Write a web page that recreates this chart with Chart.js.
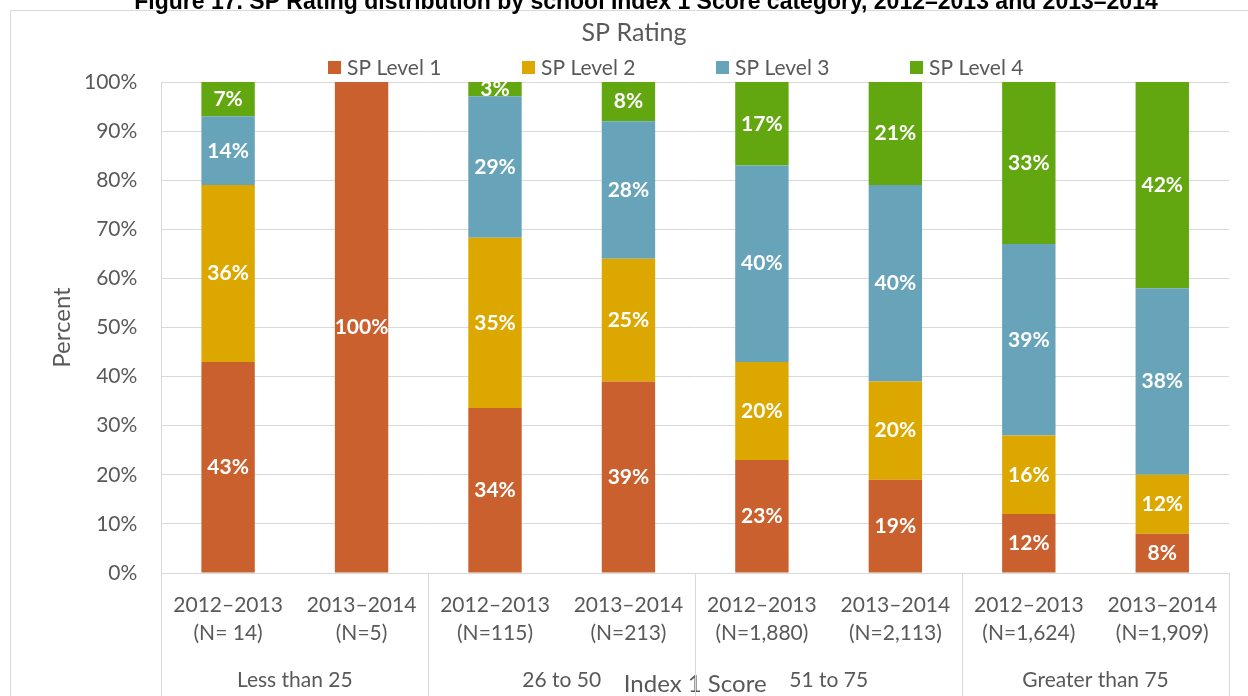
<!DOCTYPE html>
<html>
<head>
<meta charset="utf-8">
<title>SP Rating</title>
<script src="https://cdn.jsdelivr.net/npm/chart.js@4.4.0/dist/chart.umd.min.js"></script>
<style>
    html, body { margin: 0; padding: 0; background: #fff; overflow: hidden; }
    #wrap { position: relative; width: 1248px; height: 696px; }
</style>
</head>
<body>
<div id="wrap"><canvas id="spChart" width="1248" height="696"></canvas></div>
<script>
var caption = 'Figure 17. SP Rating distribution by school Index 1 Score category, 2012\u20132013 and 2013\u20132014';
var years = [
    ['2012\u20132013', '(N= 14)'], ['2013\u20132014', '(N=5)'],
    ['2012\u20132013', '(N=115)'], ['2013\u20132014', '(N=213)'],
    ['2012\u20132013', '(N=1,880)'], ['2013\u20132014', '(N=2,113)'],
    ['2012\u20132013', '(N=1,624)'], ['2013\u20132014', '(N=1,909)']
];
var groups = ['Less than 25', '26 to 50', '51 to 75', 'Greater than 75'];
var seriesNames = ['SP Level 1', 'SP Level 2', 'SP Level 3', 'SP Level 4'];
var level1 = [43, 100, 33.6, 39, 23, 19, 12, 8];
var level2 = [36, 0, 34.7, 25, 20, 20, 16, 12];
var level3 = [14, 0, 28.8, 28, 40, 40, 39, 38];
var level4 = [7, 0, 2.9, 8, 17, 21, 33, 42];
var yTicks = [0, 10, 20, 30, 40, 50, 60, 70, 80, 90, 100];

(function () {
    var colors = ['#c9602e', '#dca800', '#67a3b9', '#62a70f'];
    var gray = '#595959';
    var lineGray = '#d9d9d9';
    var font = 'Lato';

    var extras = {
        id: 'extras',
        beforeDraw: function (chart) {
            var ctx = chart.ctx;
            ctx.save();
            // outer frame
            ctx.strokeStyle = lineGray;
            ctx.lineWidth = 1;
            ctx.beginPath();
            ctx.moveTo(10.5, chart.height);
            ctx.lineTo(10.5, 10.5);
            ctx.lineTo(chart.width, 10.5);
            ctx.stroke();
            // figure caption, clipped at the top
            ctx.fillStyle = '#000';
            ctx.font = 'bold 23px "Liberation Sans"';
            ctx.textAlign = 'center';
            ctx.textBaseline = 'alphabetic';
            ctx.fillText(caption, 646, 9);
            ctx.restore();
        },
        afterDraw: function (chart) {
            var ctx = chart.ctx;
            var x = chart.scales.x;
            var area = chart.chartArea;
            var catW = (x.right - x.left) / years.length;
            ctx.save();
            // group separators under the axis
            ctx.strokeStyle = lineGray;
            ctx.lineWidth = 1;
            ctx.beginPath();
            for (var g = 0; g <= groups.length; g++) {
                var px = g < groups.length ? x.getPixelForValue(g * 2) - catW / 2 : x.right;
                px = Math.round(px) + 0.5;
                ctx.moveTo(px, area.bottom);
                ctx.lineTo(px, chart.height);
            }
            ctx.stroke();
            // group labels
            ctx.fillStyle = gray;
            ctx.font = '21px ' + font;
            ctx.textAlign = 'center';
            ctx.textBaseline = 'middle';
            groups.forEach(function (name, i) {
                var cx = (x.getPixelForValue(i * 2) + x.getPixelForValue(i * 2 + 1)) / 2;
                ctx.fillText(name, cx, 680);
            });
            // legend, evenly spaced like the original
            ctx.textAlign = 'left';
            seriesNames.forEach(function (name, i) {
                var lx = 328 + i * 194;
                ctx.fillStyle = colors[i];
                ctx.fillRect(lx, 61, 13, 13);
                ctx.fillStyle = gray;
                ctx.fillText(name, lx + 19, 68);
            });
            ctx.restore();
        }
    };

    var barLabels = {
        id: 'barLabels',
        afterDatasetsDraw: function (chart) {
            var ctx = chart.ctx;
            ctx.save();
            ctx.fillStyle = '#fff';
            ctx.font = 'bold 21px ' + font;
            ctx.textAlign = 'center';
            ctx.textBaseline = 'middle';
            chart.data.datasets.forEach(function (ds, i) {
                chart.getDatasetMeta(i).data.forEach(function (bar, j) {
                    var v = ds.data[j];
                    if (!v) {
                        return;
                    }
                    ctx.fillText(Math.round(v) + '%', bar.x, (bar.y + bar.base) / 2);
                });
            });
            ctx.restore();
        }
    };

    var sets = [level1, level2, level3, level4].map(function (vals, i) {
        return {
            label: seriesNames[i],
            data: vals,
            backgroundColor: colors[i],
            borderWidth: 0,
            barPercentage: 0.4,
            categoryPercentage: 1
        };
    });

    new Chart(document.getElementById('spChart'), {
        type: 'bar',
        data: { labels: years, datasets: sets },
        plugins: [extras, barLabels],
        options: {
            responsive: false,
            animation: false,
            layout: { padding: { left: 39, right: 19, top: 0, bottom: -2 } },
            plugins: {
                legend: { display: false },
                tooltip: { enabled: false },
                title: {
                    display: true,
                    text: 'SP Rating',
                    color: gray,
                    font: { family: font, size: 25, weight: 'normal', lineHeight: 1.2 },
                    padding: { top: 18, bottom: 34 }
                }
            },
            scales: {
                x: {
                    stacked: true,
                    grid: { display: false, drawTicks: false },
                    border: { display: true, color: lineGray },
                    ticks: {
                        color: gray,
                        padding: 18,
                        maxRotation: 0,
                        autoSkip: false,
                        font: { family: font, size: 21, lineHeight: 1.333 }
                    },
                    title: {
                        display: true,
                        text: 'Index 1 Score',
                        color: gray,
                        font: { family: font, size: 24, lineHeight: 1.333 },
                        padding: { top: 3, bottom: -2 }
                    }
                },
                y: {
                    stacked: true,
                    min: 0,
                    max: 100,
                    afterBuildTicks: function (scale) {
                        scale.ticks = yTicks.map(function (v) { return { value: v }; });
                    },
                    grid: { color: lineGray, drawTicks: false },
                    border: { display: true, color: lineGray },
                    ticks: {
                        color: gray,
                        padding: 24,
                        font: { family: font, size: 21 },
                        callback: function (v) { return v + '%'; }
                    },
                    title: {
                        display: true,
                        text: 'Percent',
                        color: gray,
                        font: { family: font, size: 24, lineHeight: 1.333 },
                        padding: { top: 7, bottom: -18 }
                    }
                }
            }
        }
    });
})();
</script>
</body>
</html>
